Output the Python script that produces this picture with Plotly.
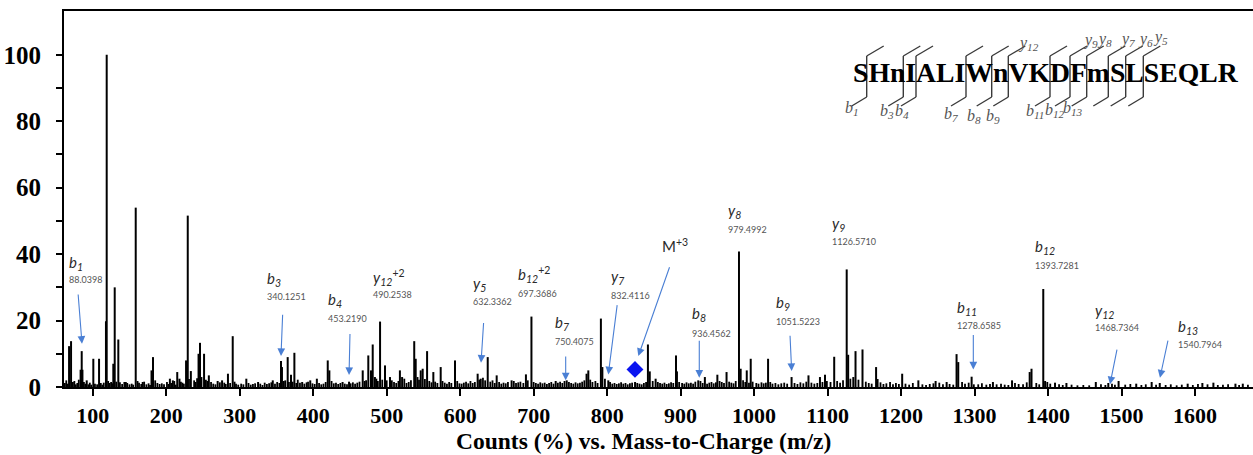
import plotly.graph_objects as go

# ---------------- data ----------------
peak_mz = [67.8, 70.5, 83.5, 85.0, 86.0, 91.8, 100.8, 108.6, 118.0, 119.0, 128.0, 129.9, 134.8, 145.0,
           158.5, 168.0, 180.0, 182.0, 205.0, 209.0, 215.0, 218.0, 227.0, 229.3, 233.5, 244.0, 246.0,
           251.5, 258.0, 270.0, 276.0, 284.0, 290.5, 309.0, 325.0, 345.0, 356.2, 357.5, 365.3, 369.8,
           374.4, 385.0, 396.0, 405.0, 419.8, 422.0, 440.0, 448.8, 467.4, 475.0, 478.7, 481.0, 484.0,
           491.0, 497.7, 504.5, 518.0, 521.0, 537.5, 539.5, 546.3, 549.0, 555.0, 563.5, 573.5, 593.0,
           623.8, 628.0, 637.5, 649.7, 670.0, 689.5, 697.0, 730.0, 745.0, 772.0, 774.4, 791.5, 793.5,
           801.6, 838.0, 855.5, 858.0, 866.0, 893.7, 895.0, 924.0, 933.0, 950.0, 962.5, 979.4, 981.7,
           990.0, 995.4, 1019.0, 1051.0, 1074.0, 1089.6, 1096.5, 1109.0, 1126.0, 1128.0, 1135.0, 1138.0,
           1147.5, 1166.0, 1168.0, 1201.5, 1223.5, 1247.0, 1262.0, 1275.5, 1277.8, 1296.0, 1325.0,
           1351.0, 1375.0, 1377.5, 1393.5, 1396.0, 1409.5, 1425.0, 1465.0, 1482.0, 1496.0, 1520.0,
           1541.0, 1552.0, 1590.0, 1610.0, 1625.0, 1655.0, 1665.0]
peak_int = [12.3, 13.8, 5.2, 10.8, 5.2, 2.0, 8.5, 8.5, 19.8, 100.0, 7.0, 30.0, 14.3, 1.5,
            54.0, 1.5, 5.0, 9.0, 2.5, 2.0, 4.5, 2.5, 8.0, 51.6, 4.8, 10.0, 13.3,
            10.0, 3.5, 1.8, 2.0, 4.0, 15.3, 2.5, 1.5, 2.0, 7.8, 6.0, 9.0, 3.7,
            10.3, 1.5, 2.0, 2.5, 8.0, 5.0, 1.5, 1.6, 5.0, 9.5, 5.0, 12.8, 3.0,
            19.7, 6.5, 3.0, 5.0, 3.0, 13.8, 8.5, 5.0, 5.5, 10.8, 4.5, 6.0, 8.0,
            4.0, 2.5, 9.0, 3.5, 2.0, 3.8, 21.2, 1.8, 2.0, 4.0, 5.0, 20.6, 6.0,
            2.0, 1.5, 12.8, 4.7, 2.5, 9.5, 4.7, 2.0, 3.0, 3.7, 4.5, 40.8, 5.5,
            5.0, 8.5, 8.5, 3.0, 3.5, 3.0, 3.7, 9.1, 35.4, 9.7, 3.0, 10.8,
            11.3, 6.0, 2.4, 4.0, 2.0, 1.8, 1.5, 9.9, 7.5, 3.1, 1.5,
            2.0, 4.5, 5.5, 29.5, 1.8, 1.3, 1.2, 1.5, 1.2, 1.8, 1.0,
            1.5, 1.2, 1.0, 1.2, 1.3, 1.0, 1.0]

noise_mz = [62, 64, 66, 73, 75, 77, 79, 81, 88, 90, 94, 96, 98,
            103, 106, 111, 113, 115, 121, 123, 125, 127, 132, 137, 140, 143, 147, 150, 153, 155, 161, 163,
            166, 170, 173, 176, 178, 185, 188, 191, 194, 197,
            201, 203, 207, 211, 213, 220, 222, 224, 231, 238, 240, 242, 248, 254, 256, 261, 264, 267, 273,
            279, 281, 287, 293, 295, 298,
            302, 305, 312, 315, 318, 321, 328, 331, 334, 337, 340, 343, 348, 351, 354, 360, 362, 367, 372,
            377, 379, 382, 388, 391, 393, 399,
            402, 408, 411, 414, 417, 425, 428, 431, 434, 437, 443, 446, 451, 454, 457, 460, 463, 470, 472,
            486, 488, 494, 500,
            507, 510, 513, 516, 524, 527, 530, 533, 542, 544, 552, 558, 561, 566, 569, 576, 579, 582, 585,
            588, 596, 599,
            602, 605, 608, 611, 614, 617, 620, 626, 631, 634, 641, 644, 647, 653, 656, 659, 662, 665, 673,
            676, 679, 682, 686, 692, 700,
            703, 706, 709, 712, 715, 718, 721, 724, 727, 733, 736, 739, 742, 748, 751, 754, 757, 760, 763,
            766, 769, 777, 780, 784, 787, 797,
            804, 807, 810, 813, 816, 819, 822, 825, 828, 831, 834, 841, 844, 847, 850, 853, 862, 869, 872,
            875, 878, 881, 884, 887, 890, 898,
            902, 905, 908, 911, 914, 917, 920, 927, 930, 936, 939, 942, 945, 948, 953, 956, 959, 966, 969,
            972, 975, 985, 988, 993, 998,
            1003, 1006, 1010, 1013, 1016, 1022, 1025, 1029, 1033, 1037, 1041, 1045, 1055, 1059, 1063, 1067,
            1071, 1078, 1082, 1086, 1093, 1099,
            1104, 1113, 1117, 1121, 1131, 1142, 1152, 1156, 1160, 1172, 1176, 1180, 1185, 1189, 1193, 1197,
            1206, 1211, 1216, 1229, 1234, 1239, 1244, 1252, 1257, 1266, 1271, 1283, 1287, 1292, 1299,
            1305, 1310, 1316, 1321, 1330, 1336, 1341, 1346, 1355, 1360, 1366, 1371, 1384, 1388, 1399,
            1403, 1415, 1420, 1432, 1440, 1448, 1456, 1472, 1478, 1487, 1491,
            1505, 1512, 1527, 1533, 1547, 1560, 1567, 1575, 1582, 1597, 1604, 1617, 1631, 1638, 1645, 1660, 1672]
noise_int = [1.2, 2.0, 1.0, 1.5, 1.8, 0.8, 1.2, 2.2, 1.5, 1.0, 0.8, 1.3, 0.7,
             1.0, 0.8, 1.2, 0.7, 1.3, 1.8, 1.2, 1.5, 1.1, 1.6, 1.4, 0.9, 1.5, 1.2, 0.8, 1.0, 0.7, 1.8, 1.3,
             0.9, 1.6, 0.8, 1.1, 0.6, 2.0, 1.2, 0.9, 1.1, 0.8,
             1.5, 0.9, 1.2, 1.8, 0.7, 1.6, 1.3, 1.0, 2.4, 2.0, 1.5, 2.6, 3.0, 2.2, 1.8, 1.5, 1.0, 0.8, 1.4,
             1.3, 0.9, 1.2, 1.6, 1.0, 0.7,
             1.0, 0.8, 1.2, 0.7, 0.9, 1.1, 1.0, 0.6, 1.3, 0.9, 1.1, 1.4, 1.0, 1.5, 1.2, 1.8, 2.0, 1.5, 1.6,
             1.2, 2.2, 1.3, 1.0, 1.4, 1.6, 1.1,
             0.9, 1.2, 0.8, 1.0, 1.5, 1.8, 1.1, 1.3, 0.9, 1.2, 1.0, 0.8, 1.1, 1.4, 1.0, 1.3, 1.6, 1.8, 2.0,
             2.5, 1.8, 2.2, 2.0,
             2.0, 1.5, 1.2, 1.8, 2.5, 1.2, 1.5, 2.0, 3.0, 2.2, 2.4, 1.8, 1.4, 1.6, 1.2, 1.8, 1.3, 1.0, 1.5,
             1.2, 1.8, 1.1,
             1.0, 1.3, 1.6, 1.1, 1.8, 1.2, 1.5, 2.2, 2.8, 2.0, 1.6, 2.0, 1.2, 1.5, 1.0, 1.3, 1.1, 1.5, 1.8,
             1.2, 1.4, 1.6, 1.2, 2.0, 1.5,
             1.2, 1.0, 1.4, 1.1, 1.3, 0.9, 1.2, 1.5, 1.0, 1.3, 1.6, 1.2, 1.8, 1.5, 1.2, 1.0, 1.4, 1.1, 1.3,
             1.6, 2.0, 2.2, 1.5, 1.8, 1.2, 2.5,
             1.5, 1.0, 1.2, 0.9, 1.1, 1.4, 1.0, 1.2, 0.8, 1.1, 1.3, 1.2, 1.0, 0.8, 1.2, 1.5, 1.8, 1.5, 1.2,
             1.0, 1.3, 0.9, 1.1, 1.4, 1.2, 1.5,
             1.2, 1.0, 1.4, 1.1, 1.3, 1.0, 1.6, 1.8, 1.2, 1.0, 1.3, 1.5, 1.1, 1.4, 1.8, 1.5, 1.2, 1.6, 1.3,
             1.1, 1.8, 2.0, 1.5, 1.3, 1.6,
             1.2, 1.0, 1.4, 1.1, 1.3, 1.5, 1.0, 1.2, 0.8, 1.1, 1.3, 1.0, 1.2, 0.9, 1.4, 1.1,
             1.6, 1.3, 1.0, 1.2, 1.5, 1.8,
             1.5, 1.8, 1.3, 2.0, 2.5, 2.2, 1.6, 1.2, 1.0, 1.4, 0.9, 1.1, 1.5, 0.8, 1.2, 0.9,
             1.0, 0.7, 1.2, 0.8, 0.6, 0.9, 1.1, 1.3, 0.8, 0.9, 0.7, 1.5, 1.0, 1.3, 0.8,
             0.8, 1.1, 0.7, 0.9, 0.8, 1.0, 0.7, 0.6, 1.2, 0.9, 0.8, 1.4, 1.2, 0.8, 1.5,
             1.0, 0.8, 0.6, 0.7, 0.5, 0.6, 0.5, 0.8, 0.6, 1.0, 0.7,
             0.7, 0.9, 0.6, 0.8, 0.7, 0.6, 0.8, 0.5, 0.7, 0.6, 0.9, 0.8, 0.6, 0.7, 0.8, 0.6, 0.7]

ion_type = ["b", "b", "b", "y", "y", "b", "b", "y", "b", "y", "b", "y", "b", "b", "y", "b"]
ion_num = ["1", "3", "4", "12", "5", "12", "7", "7", "8", "8", "9", "9", "11", "12", "12", "13"]
ion_charge = ["", "", "", "+2", "", "+2", "", "", "", "", "", "", "", "", "", ""]
ion_mass = ["88.0398", "340.1251", "453.2190", "490.2538", "632.3362", "697.3686", "750.4075",
            "832.4116", "936.4562", "979.4992", "1051.5223", "1126.5710", "1278.6585", "1393.7281",
            "1468.7364", "1540.7964"]
precursor_label = "M"
precursor_charge = "+3"

x_ticks = [100, 200, 300, 400, 500, 600, 700, 800, 900, 1000, 1100, 1200, 1300, 1400, 1500, 1600]
y_ticks = [0, 20, 40, 60, 80, 100]
x_title = "Counts (%) vs. Mass-to-Charge (m/z)"

sequence = "SHnIALIWnVKDFmSLSEQLR"
seq_b_labels = ["1", "3", "4", "7", "8", "9", "11", "12", "13"]
seq_y_labels = ["12", "9", "8", "7", "6", "5"]

# ---------------- layout helpers ----------------
W, H = 1253, 455
L, R, T, B = 64, 0, 11, 68
X_RANGE = [60.9, 1678.9]
Y_RANGE = [0, 113.2]

def px(xp):
    return (xp - L) / (W - L - R)

def py(yp):
    return (H - B - yp) / (H - B - T)

# label placements (data coords): label x, label y, value y
ion_pos = [(65.0, 37.4, 32.3), (334.5, 32.6, 27.1), (417.5, 26.2, 20.5), (478.7, 32.9, 27.7),
           (614.4, 31.0, 25.7), (676.0, 34.0, 28.2), (726.0, 19.2, 13.6), (802.5, 33.0, 27.4),
           (912.9, 22.1, 16.2), (961.8, 53.1, 47.5), (1027.1, 25.4, 19.7), (1103.3, 49.1, 43.8),
           (1273.8, 23.9, 18.4), (1380.0, 42.0, 36.7), (1460.7, 22.9, 17.9), (1574.0, 18.1, 12.7)]
# arrows: tail (mz, y) -> head (mz, y)
arrows = [((80.0, 28.3), (85.4, 13.0)), ((358.5, 22.2), (356.2, 9.3)), ((450.1, 16.4), (448.8, 3.6)),
          ((632.0, 19.7), (628.4, 7.3)), ((743.6, 9.6), (743.6, 2.0)), ((813.9, 25.1), (801.6, 3.8)),
          ((885.6, 36.5), (842.4, 9.3)), ((925.4, 14.4), (925.4, 2.8)), ((1048.8, 15.9), (1051.1, 4.8)),
          ((1298.3, 16.1), (1298.3, 5.3)), ((1494.2, 11.7), (1484.3, 0.8)), ((1563.6, 14.4), (1552.3, 2.8))]
precursor_pos = (871.9, 42.5)
diamond_pos = (837.9, 5.3)

SERIF = "Liberation Serif"
SANS = "Lato"

fig = go.Figure()

# sticks built from data arrays
def sticks(mz, inten):
    xs, ys = [], []
    for m, h in zip(mz, inten):
        xs += [m, m, None]
        ys += [0, h, None]
    return xs, ys

nx, ny = sticks(noise_mz, noise_int)
fig.add_trace(go.Scatter(x=nx, y=ny, mode="lines", line=dict(color="black", width=1.8),
                         hoverinfo="skip", showlegend=False))
sx, sy = sticks(peak_mz, peak_int)
fig.add_trace(go.Scatter(x=sx, y=sy, mode="lines", line=dict(color="black", width=2),
                         hoverinfo="skip", showlegend=False))
fig.add_trace(go.Scatter(x=[diamond_pos[0]], y=[diamond_pos[1]], mode="markers",
                         marker=dict(symbol="diamond", size=13, color="#0a14f0"),
                         hoverinfo="skip", showlegend=False))

ann = []
for t, n, c, m, (lx, ly, vy) in zip(ion_type, ion_num, ion_charge, ion_mass, ion_pos):
    txt = f"<i>{t}</i><sub><i>{n}</i></sub>" + (f"<sup>{c}</sup>" if c else "")
    ann.append(dict(x=lx, y=ly, xref="x", yref="y", text=txt, showarrow=False, xanchor="left",
                    yanchor="middle", font=dict(family=SANS, size=15, color="#2a2a2a")))
    ann.append(dict(x=lx, y=vy, xref="x", yref="y", text=m, showarrow=False, xanchor="left",
                    yanchor="middle", font=dict(family=SANS, size=9, color="#555555")))
ann.append(dict(x=precursor_pos[0], y=precursor_pos[1], xref="x", yref="y",
                text=f"{precursor_label}<sup>{precursor_charge}</sup>", showarrow=False,
                xanchor="left", yanchor="middle", font=dict(family=SANS, size=15, color="#2a2a2a")))
for (tx, ty), (hx, hy) in arrows:
    ann.append(dict(x=hx, y=hy, xref="x", yref="y", ax=tx, ay=ty, axref="x", ayref="y", text="",
                    showarrow=True, arrowhead=2, arrowsize=1.4, arrowwidth=1.1, arrowcolor="#4a7fd4",
                    standoff=0))

# x-axis title
ann.append(dict(x=px(643), y=py(441), xref="paper", yref="paper", text=f"<b>{x_title}</b>",
                showarrow=False, xanchor="center", yanchor="middle",
                font=dict(family=SERIF, size=23.5, color="black")))

# peptide sequence with fragment marks
ann.append(dict(x=px(851), y=py(72), xref="paper", yref="paper", text=f"<b>{sequence}</b>",
                showarrow=False, xanchor="left", yanchor="middle",
                font=dict(family=SERIF, size=27.7, color="black")))
cleave_x = [866.7, 903.3, 916.0, 966.0, 991.7, 1008.3, 1050.0, 1070.0, 1086.7, 1108.3, 1125.7, 1143.3]
shapes = []
for cx in cleave_x:
    for (x0, y0, x1, y1) in [(cx, 56, cx, 97), (cx, 56, cx + 17, 46), (cx, 97, cx - 15, 106)]:
        shapes.append(dict(type="line", xref="paper", yref="paper", x0=px(x0), y0=py(y0),
                           x1=px(x1), y1=py(y1), line=dict(color="#3a3a3a", width=1.4)))
b_lab_pos = [(852, 108), (887, 111), (901.7, 111), (951, 114), (974, 116), (993, 116),
             (1035, 111), (1055, 110), (1073, 109)]
y_lab_pos = [(1028, 44), (1090, 40), (1104, 39), (1127, 39), (1145, 39), (1160, 38)]
for n, (lx, ly) in zip(seq_b_labels, b_lab_pos):
    ann.append(dict(x=px(lx), y=py(ly), xref="paper", yref="paper", text=f"<i>b<sub>{n}</sub></i>",
                    showarrow=False, xanchor="center", yanchor="middle",
                    font=dict(family=SERIF, size=16, color="#555555")))
for n, (lx, ly) in zip(seq_y_labels, y_lab_pos):
    ann.append(dict(x=px(lx), y=py(ly), xref="paper", yref="paper", text=f"<i>y<sub>{n}</sub></i>",
                    showarrow=False, xanchor="center", yanchor="middle",
                    font=dict(family=SERIF, size=16, color="#555555")))

fig.update_layout(
    width=W, height=H, margin=dict(l=L, r=R, t=T, b=B, pad=0),
    paper_bgcolor="white", plot_bgcolor="white",
    annotations=ann, shapes=shapes, showlegend=False,
    xaxis=dict(range=X_RANGE, tickvals=x_ticks, ticktext=[str(v) for v in x_ticks],
               ticks="outside", ticklen=7, tickwidth=2, tickcolor="black",
               showline=True, linewidth=2, linecolor="black", mirror=True,
               showgrid=False, zeroline=False, ticklabelstandoff=1,
               tickfont=dict(family=SERIF, size=22, color="black", weight="bold")),
    yaxis=dict(range=Y_RANGE, tickvals=y_ticks, ticktext=[str(v) for v in y_ticks],
               ticks="outside", ticklen=6, tickwidth=1.5, tickcolor="black",
               minor=dict(tickvals=[10, 30, 50, 70, 90], ticks="outside", ticklen=6, tickwidth=1.5,
                          tickcolor="black", showgrid=False),
               showline=True, linewidth=2, linecolor="black",
               showgrid=False, zeroline=False, ticklabelstandoff=10,
               tickfont=dict(family=SERIF, size=25, color="black", weight="bold")),
)

fig.write_html("out.html", config={"displayModeBar": False},
               post_script="document.body.style.margin='0';document.body.style.overflow='hidden';")
